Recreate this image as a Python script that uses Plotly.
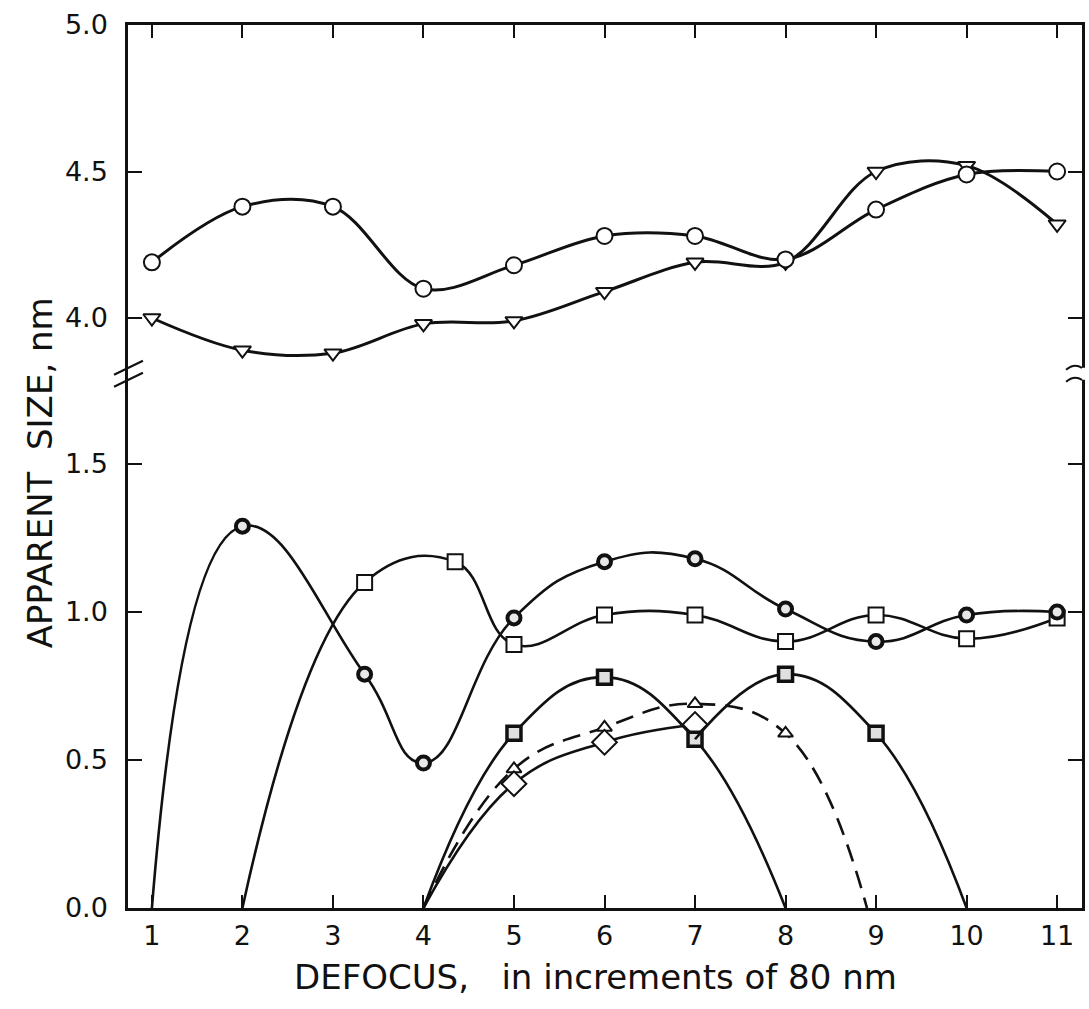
import plotly.graph_objects as go

# ---------------- data ----------------
x_ticks = [1, 2, 3, 4, 5, 6, 7, 8, 9, 10, 11]
x_tick_labels = ["1", "2", "3", "4", "5", "6", "7", "8", "9", "10", "11"]

# upper panel (nm)
up_circle_x = [1, 2, 3, 4, 5, 6, 7, 8, 9, 10, 11]
up_circle_y = [4.19, 4.38, 4.38, 4.10, 4.18, 4.28, 4.28, 4.20, 4.37, 4.49, 4.50]
up_tri_x = [1, 2, 3, 4, 5, 6, 7, 8, 9, 10, 11]
up_tri_y = [4.00, 3.89, 3.88, 3.98, 3.99, 4.09, 4.19, 4.19, 4.50, 4.52, 4.32]

# lower panel (nm); first / last points at zero carry no marker
lo_ring_x = [1, 2, 3.35, 4, 5, 6, 7, 8, 9, 10, 11]
lo_ring_y = [0.0, 1.29, 0.79, 0.49, 0.98, 1.17, 1.18, 1.01, 0.90, 0.99, 1.00]
lo_ring_mark = [False, True, True, True, True, True, True, True, True, True, True]

lo_sq_x = [2, 3.35, 4.35, 5, 6, 7, 8, 9, 10, 11]
lo_sq_y = [0.0, 1.10, 1.17, 0.89, 0.99, 0.99, 0.90, 0.99, 0.91, 0.98]
lo_sq_mark = [False, True, True, True, True, True, True, True, True, True]

lo_dsq1_x = [4, 5, 6, 7, 8]
lo_dsq1_y = [0.0, 0.59, 0.78, 0.57, 0.0]
lo_dsq1_mark = [False, True, True, True, False]

lo_dsq2_x = [7, 8, 9, 10]
lo_dsq2_y = [0.57, 0.79, 0.59, 0.0]
lo_dsq2_mark = [False, True, True, False]

lo_tri_x = [4, 5, 6, 7, 8, 8.9]
lo_tri_y = [0.0, 0.47, 0.61, 0.69, 0.59, 0.0]
lo_tri_mark = [False, True, True, True, True, False]

lo_dia_x = [4, 5, 6, 7]
lo_dia_y = [0.0, 0.42, 0.56, 0.62]
lo_dia_mark = [False, True, True, True]

up_y_ticks = [4.0, 4.5, 5.0]
up_y_labels = ["4.0", "4.5", "5.0"]
lo_y_ticks = [0.0, 0.5, 1.0, 1.5]
lo_y_labels = ["0.0", "0.5", "1.0", "1.5"]

# ---------------- figure ----------------
FONT = "DejaVu Sans"
INK = "#111111"
fig = go.Figure()


def add_series(xs, ys, marks, symbol, size, fill, lw_marker, xa, ya, dash="solid", lw=2.6, smooth=1.0):
    fig.add_trace(go.Scatter(
        x=xs, y=ys, mode="lines", xaxis=xa, yaxis=ya,
        line=dict(color=INK, width=lw, shape="spline", smoothing=smooth, dash=dash),
        hoverinfo="skip", showlegend=False))
    mx = [x for x, m in zip(xs, marks) if m]
    my = [y for y, m in zip(ys, marks) if m]
    fig.add_trace(go.Scatter(
        x=mx, y=my, mode="markers", xaxis=xa, yaxis=ya,
        marker=dict(symbol=symbol, size=size, color=fill,
                    line=dict(color=INK, width=lw_marker)),
        showlegend=False))


# upper panel
add_series(up_tri_x, up_tri_y, [True] * len(up_tri_x), "triangle-down", 15, "white", 2, "x2", "y2", lw=3)
add_series(up_circle_x, up_circle_y, [True] * len(up_circle_x), "circle", 16, "white", 2, "x2", "y2", lw=3)

# lower panel
add_series(lo_tri_x, lo_tri_y, lo_tri_mark, "triangle-up", 13, "white", 2, "x", "y", dash="18px,10px", smooth=1.2)
add_series(lo_dia_x, lo_dia_y, lo_dia_mark, "diamond", 19, "white", 2, "x", "y", smooth=1.2)
add_series(lo_dsq1_x, lo_dsq1_y, lo_dsq1_mark, "square", 14, "#e0e0e0", 3.5, "x", "y", smooth=1.2)
add_series(lo_dsq2_x, lo_dsq2_y, lo_dsq2_mark, "square", 14, "#e0e0e0", 3.5, "x", "y", smooth=1.2)
add_series(lo_sq_x, lo_sq_y, lo_sq_mark, "square", 15, "white", 2, "x", "y", smooth=1.2)
add_series(lo_ring_x, lo_ring_y, lo_ring_mark, "circle", 13, "#e8e8e8", 4, "x", "y", smooth=1.3)

# ---------------- layout ----------------
L, R, T, B = 128, 4, 25, 101
W, H = 1089, 1009
PW, PH = W - L - R, H - T - B
BREAK = 0.605
X_RANGE = [0.736, 11.275]

lo_top = (PH * BREAK) / 296.0
up_bot = 5.0 - (PH * (1 - BREAK)) / 293.0

tickfont = dict(family=FONT, size=27, color=INK)
common_x = dict(range=X_RANGE, tickvals=x_ticks, ticks="inside", ticklen=13, tickwidth=2,
                tickcolor=INK, showline=True, linecolor=INK, linewidth=2.5, showgrid=False,
                zeroline=False, fixedrange=True)

fig.update_layout(
    width=W, height=H,
    margin=dict(l=L, r=R, t=T, b=B),
    paper_bgcolor="white", plot_bgcolor="white",
    showlegend=False,
    xaxis=dict(**common_x, anchor="y", side="bottom", ticktext=x_tick_labels,
               tickfont=tickfont, ticklabelstandoff=2),
    xaxis2=dict(**common_x, anchor="y2", side="top", matches="x", showticklabels=False),
    yaxis=dict(domain=[0, BREAK], range=[0, lo_top], tickvals=lo_y_ticks, ticktext=lo_y_labels,
               ticks="inside", ticklen=14, tickwidth=2, tickcolor=INK, showline=True,
               linecolor=INK, linewidth=2.5, mirror="allticks", showgrid=False, zeroline=False,
               tickfont=tickfont, ticklabelstandoff=12, fixedrange=True),
    yaxis2=dict(domain=[BREAK, 1], range=[up_bot, 5.0], tickvals=up_y_ticks, ticktext=up_y_labels,
                ticks="inside", ticklen=14, tickwidth=2, tickcolor=INK, showline=True,
                linecolor=INK, linewidth=2.5, mirror="allticks", showgrid=False, zeroline=False,
                tickfont=tickfont, ticklabelstandoff=12, fixedrange=True, anchor="x2"),
)


def px(xp):
    return (xp - L) / PW


def py(yp):
    return (T + PH - yp) / PH


brk = T + PH * (1 - BREAK)
shapes = []
# left axis break: two slashes
for dy in (-6, 6):
    shapes.append(dict(type="line", xref="paper", yref="paper",
                       x0=px(114), y0=py(brk + dy + 7), x1=px(143), y1=py(brk + dy - 7),
                       line=dict(color=INK, width=2.2)))
# right axis break: white gap and two tilde marks
shapes.append(dict(type="rect", xref="paper", yref="paper",
                   x0=px(W - R - 4), x1=px(W - R + 4), y0=py(brk + 6), y1=py(brk - 6),
                   fillcolor="white", line=dict(width=0), layer="above"))
for dy in (-6, 6):
    yy = brk + dy
    shapes.append(dict(type="path", xref="paper", yref="paper",
                       path=f"M {px(W - R - 16)},{py(yy + 2)} Q {px(W - R - 8)},{py(yy - 5)} {px(W - R)},{py(yy)}",
                       line=dict(color=INK, width=2)))
fig.update_layout(shapes=shapes)

fig.add_annotation(text="DEFOCUS,\u00a0\u00a0\u00a0in increments of 80 nm", xref="paper", yref="paper",
                   x=px(597), y=py(977), xanchor="center", yanchor="middle", showarrow=False,
                   font=dict(family=FONT, size=34, color=INK))
fig.add_annotation(text="APPARENT\u00a0\u00a0SIZE,\u00a0nm", xref="paper", yref="paper",
                   x=px(40), y=py(473), xanchor="center", yanchor="middle", showarrow=False,
                   textangle=-90, font=dict(family=FONT, size=34, color=INK))

fig.write_html("out.html")
